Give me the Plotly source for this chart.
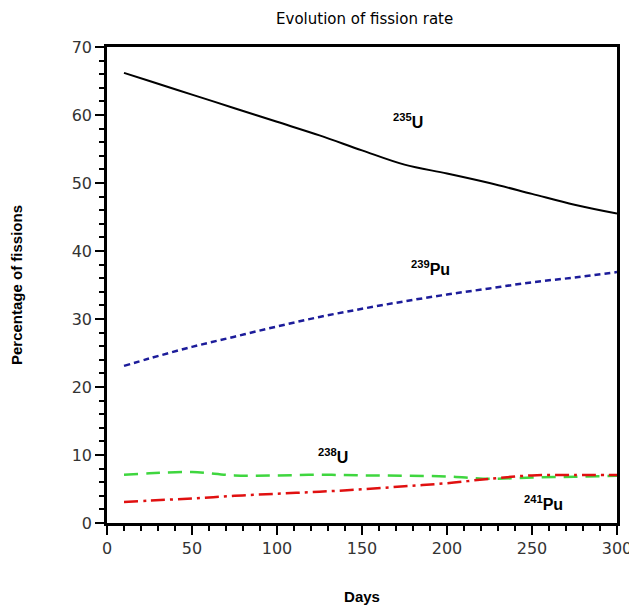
import plotly.graph_objects as go

days = [10, 25, 50, 75, 100, 125, 150, 175, 200, 225, 250, 275, 300]
u235 = [66.2, 65.0, 63.0, 61.0, 59.0, 57.0, 54.8, 52.7, 51.4, 50.0, 48.4, 46.8, 45.5]
pu239 = [23.1, 24.2, 25.9, 27.4, 28.9, 30.3, 31.5, 32.6, 33.6, 34.5, 35.4, 36.1, 36.9]
u238 = [7.1, 7.3, 7.5, 7.0, 7.0, 7.1, 7.0, 6.95, 6.85, 6.5, 6.7, 6.8, 6.95]
pu241 = [3.1, 3.3, 3.6, 4.0, 4.3, 4.6, 4.95, 5.4, 5.85, 6.5, 7.0, 7.05, 7.05]

labels = ["<sup>235</sup>U", "<sup>239</sup>Pu", "<sup>238</sup>U", "<sup>241</sup>Pu"]
label_x = [177, 190, 133, 257]
label_y = [59.1, 37.5, 9.9, 3.0]

fig = go.Figure()
fig.add_trace(go.Scatter(x=days, y=u235, mode="lines", line=dict(color="black", width=2), line_shape="spline"))
fig.add_trace(go.Scatter(x=days, y=pu239, mode="lines", line=dict(color="#1c1c9a", width=2.5, dash="6px,4px"), line_shape="spline"))
fig.add_trace(go.Scatter(x=days, y=u238, mode="lines", line=dict(color="#3fd63f", width=2.5, dash="14px,8px"), line_shape="spline"))
fig.add_trace(go.Scatter(x=days, y=pu241, mode="lines", line=dict(color="#e01010", width=2.5, dash="14px,5px,3px,5px"), line_shape="spline"))

for t, x, y in zip(labels, label_x, label_y):
    fig.add_annotation(x=x, y=y, text="<b>" + t + "</b>", showarrow=False,
                       font=dict(family="Liberation Sans, Arial", size=16, color="black"))

axis_common = dict(showline=True, linecolor="black", linewidth=2.5, mirror=True,
                   ticks="outside", ticklen=9, tickwidth=2, tickcolor="black",
                   showgrid=False, zeroline=False, automargin=False,
                   ticklabeloverflow="allow",
                   tickfont=dict(family="DejaVu Sans, Verdana", size=16, color="#333333"))

# the page body has an 8px default margin, so the figure is sized/offset to compensate
fig.update_layout(
    width=629, height=597,
    margin=dict(l=99, r=20, t=39, b=82),
    paper_bgcolor="white", plot_bgcolor="white",
    showlegend=False,
    title=dict(text="Evolution of fission rate", x=0.567, xanchor="center", y=0.99, yanchor="top",
               font=dict(family="DejaVu Sans, Verdana", size=15, color="black")),
    xaxis=dict(range=[0, 300], dtick=50,
               minor=dict(dtick=10, ticks="outside", ticklen=5, tickwidth=2, tickcolor="black"),
               title=dict(text="<b>Days</b>", font=dict(family="Liberation Sans, Arial", size=15, color="black"), standoff=35),
               **axis_common),
    yaxis=dict(range=[0, 70], dtick=10,
               minor=dict(dtick=2, ticks="outside", ticklen=5, tickwidth=2, tickcolor="black"),
               title=dict(text="<b>Percentage of fissions</b>", font=dict(family="Liberation Sans, Arial", size=15, color="black"), standoff=50),
               **axis_common),
)

fig.write_html("out.html")
